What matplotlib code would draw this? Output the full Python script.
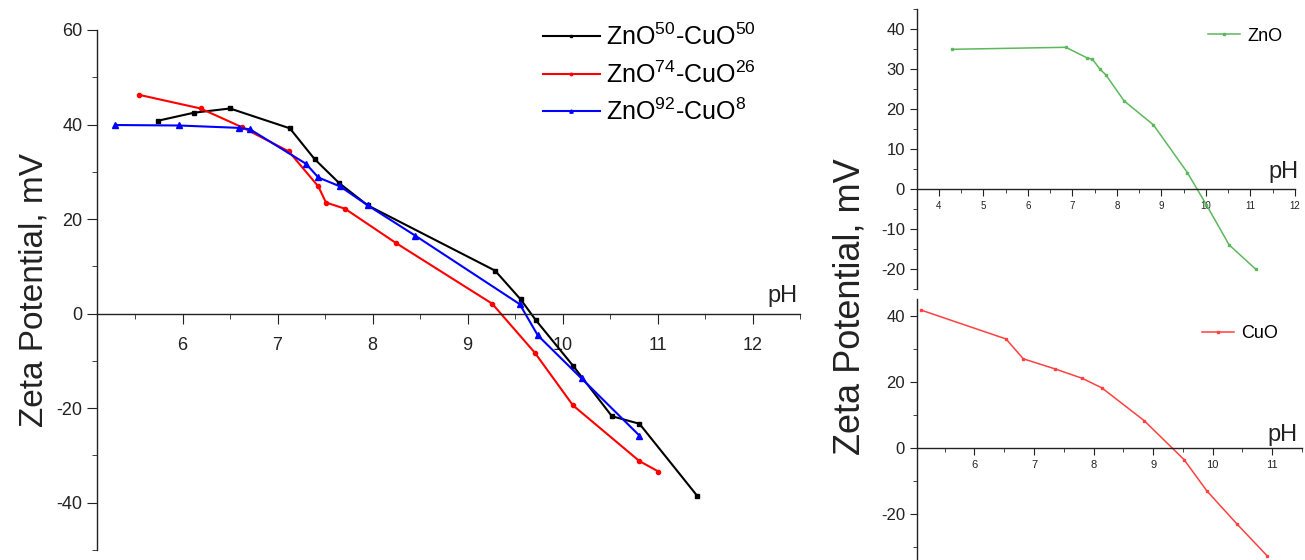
import numpy as np
import matplotlib.pyplot as plt
from matplotlib.ticker import MultipleLocator

plt.rcParams['font.family'] = ['Liberation Sans', 'DejaVu Sans']
plt.rcParams['mathtext.default'] = 'regular'
plt.rcParams['axes.unicode_minus'] = False

# ZnO-CuO mixtures (left panel)
ph_50 = [5.74, 6.12, 6.50, 7.13, 7.39, 7.65, 7.95, 9.29, 9.56, 9.72, 10.11, 10.52, 10.81, 11.42]
zp_50 = [40.8, 42.5, 43.4, 39.2, 32.7, 27.6, 22.9, 9.1, 3.0, -1.4, -11.0, -21.7, -23.3, -38.6]
ph_74 = [5.54, 6.19, 6.63, 7.12, 7.43, 7.51, 7.71, 8.25, 9.26, 9.71, 10.11, 10.81, 11.01]
zp_74 = [46.3, 43.4, 39.4, 34.3, 26.9, 23.5, 22.2, 14.9, 2.1, -8.3, -19.4, -31.2, -33.4]
ph_92 = [5.29, 5.96, 6.59, 6.71, 7.30, 7.43, 7.66, 7.95, 8.45, 9.55, 9.74, 10.20, 10.81]
zp_92 = [39.9, 39.8, 39.3, 39.0, 31.7, 28.8, 26.9, 22.9, 16.5, 2.0, -4.6, -13.7, -25.8]

# pure oxides (right panels)
ph_zno = [4.29, 6.85, 7.32, 7.45, 7.62, 7.75, 8.16, 8.82, 9.58, 10.01, 10.52, 11.12]
zp_zno = [35.0, 35.5, 32.9, 32.5, 30.0, 28.6, 22.1, 16.1, 4.2, -3.9, -13.9, -20.0]
ph_cuo = [5.11, 6.53, 6.82, 7.36, 7.81, 8.14, 8.85, 9.52, 9.90, 10.41, 10.91]
zp_cuo = [41.7, 33.0, 27.0, 23.9, 21.1, 18.2, 8.3, -3.5, -12.9, -23.0, -32.5]

W, H = 1305, 560
fig = plt.figure(figsize=(W / 100, H / 100), dpi=100)


def frac(x0, y0, x1, y1):
    return [x0 / W, 1 - y1 / H, (x1 - x0) / W, (y1 - y0) / H]


def style(ax, xfs, yfs, ticklen):
    ax.spines['top'].set_visible(False)
    ax.spines['right'].set_visible(False)
    ax.spines['bottom'].set_position(('data', 0))
    for s in ax.spines.values():
        s.set_linewidth(1.0)
        s.set_color('#222222')
    ax.tick_params(axis='x', which='major', direction='out', length=ticklen, labelsize=xfs, colors='#222222')
    ax.tick_params(axis='y', which='major', direction='out', length=ticklen, labelsize=yfs, colors='#222222')
    ax.tick_params(which='minor', direction='out', length=ticklen * 0.55, colors='#222222')


# left panel
ax = fig.add_axes(frac(97, 30, 800, 550))
ax.plot(ph_50, zp_50, '-s', color='black', lw=1.5, ms=3, label='ZnO$^{50}$-CuO$^{50}$')
ax.plot(ph_74, zp_74, '-o', color='#ff0000', lw=1.5, ms=3, label='ZnO$^{74}$-CuO$^{26}$')
ax.plot(ph_92, zp_92, '-^', color='#0000ff', lw=1.5, ms=4, label='ZnO$^{92}$-CuO$^{8}$')
ax.set_xlim(5.1, 12.5)
ax.set_ylim(-50, 60)
ax.xaxis.set_major_locator(MultipleLocator(1))
ax.xaxis.set_minor_locator(MultipleLocator(0.5))
ax.yaxis.set_major_locator(MultipleLocator(20))
ax.yaxis.set_minor_locator(MultipleLocator(10))
style(ax, 13, 13, 7)
ax.tick_params(axis='x', pad=10)
ax.set_ylabel('Zeta Potential, mV', fontsize=24, labelpad=5, color='#222222')
ax.text(12.32, 3.8, 'pH', fontsize=17, ha='center', va='center', color='#222222')
ax.legend(loc='upper left', bbox_to_anchor=(525 / W, 1 - 6 / H), bbox_transform=fig.transFigure,
          frameon=False, fontsize=18, handlelength=2.3, handletextpad=0.25, labelspacing=0.45,
          borderpad=0.2, markerscale=0.6)

# right top panel: ZnO
ax2 = fig.add_axes(frac(916.7, 9.3, 1295, 289.3))
ax2.plot(ph_zno, zp_zno, '-s', color='#5cb85c', lw=1.1, ms=2, label='ZnO')
ax2.set_xlim(3.5, 12)
ax2.set_ylim(-25, 45)
ax2.xaxis.set_major_locator(MultipleLocator(1))
ax2.xaxis.set_minor_locator(MultipleLocator(0.5))
ax2.yaxis.set_major_locator(MultipleLocator(10))
ax2.yaxis.set_minor_locator(MultipleLocator(5))
style(ax2, 7, 12, 5)
ax2.text(11.74, 4.4, 'pH', fontsize=17, ha='center', va='center', color='#222222')
ax2.legend(loc='upper right', bbox_to_anchor=(1.0, 0.98), frameon=False, fontsize=13,
           handlelength=1.75, handletextpad=0.4, borderpad=0.2)

# right bottom panel: CuO
ax3 = fig.add_axes(frac(916.7, 299.3, 1302, 563.8))
ax3.plot(ph_cuo, zp_cuo, '-s', color='#ff4040', lw=1.1, ms=2, label='CuO')
ax3.set_xlim(5.03, 11.5)
ax3.set_ylim(-35, 45)
ax3.xaxis.set_major_locator(MultipleLocator(1))
ax3.xaxis.set_minor_locator(MultipleLocator(0.5))
ax3.yaxis.set_major_locator(MultipleLocator(20))
ax3.yaxis.set_minor_locator(MultipleLocator(10))
style(ax3, 8, 12, 5)
ax3.text(11.18, 4.0, 'pH', fontsize=17, ha='center', va='center', color='#222222')
ax3.legend(loc='upper right', bbox_to_anchor=(0.97, 0.95), frameon=False, fontsize=13,
           handlelength=1.75, handletextpad=0.4, borderpad=0.2)

fig.text(850 / W, 1 - 307 / H, 'Zeta Potential, mV', fontsize=26, rotation=90,
         ha='center', va='center', color='#222222')

fig.savefig('out.png', dpi=100)
